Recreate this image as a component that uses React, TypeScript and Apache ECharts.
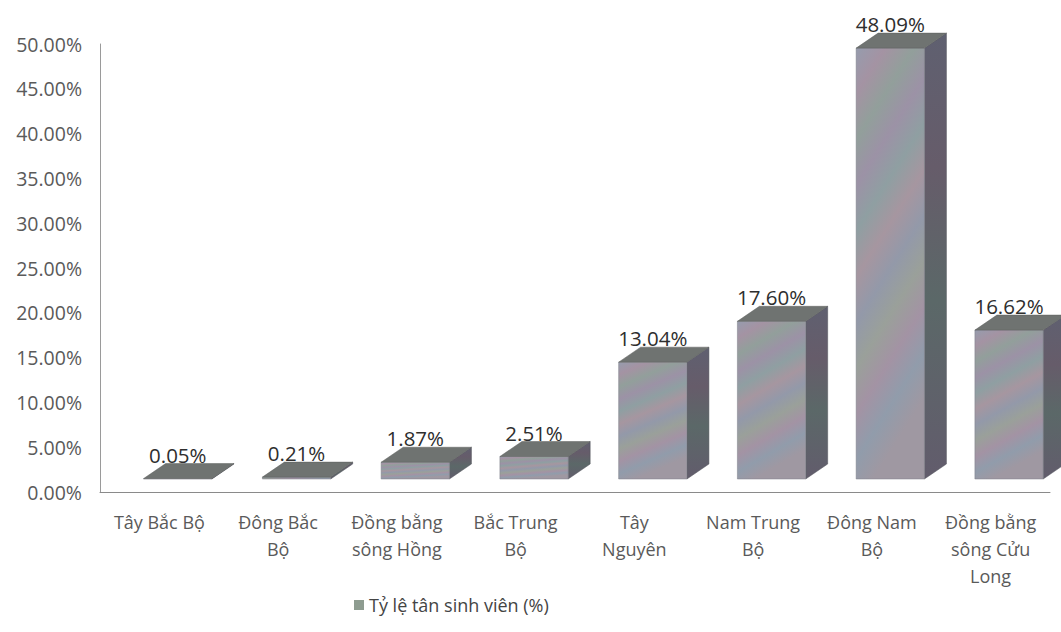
import React, { useEffect, useRef } from "react";
import * as echarts from "echarts";

const categories = [
  "Tây Bắc Bộ",
  "Đông Bắc\nBộ",
  "Đồng bằng\nsông Hồng",
  "Bắc Trung\nBộ",
  "Tây\nNguyên",
  "Nam Trung\nBộ",
  "Đông Nam\nBộ",
  "Đồng bằng\nsông Cửu\nLong",
];
const values = [0.05, 0.21, 1.87, 2.51, 13.04, 17.6, 48.09, 16.62];
const seriesName = "Tỷ lệ tân sinh viên (%)";
const yTicks = { min: 0, max: 50, interval: 5 };

const FONT = "'Open Sans', 'Noto Sans', sans-serif";

export default function App() {
  const ref = useRef<HTMLDivElement>(null);
  useEffect(() => {
    document.body.style.margin = "0";
    const chart = echarts.init(ref.current!, null, { renderer: "svg" });
    const frontFill = new echarts.graphic.LinearGradient(0, 0, 0.25, 1, [
      { offset: 0, color: "#969cad" },
      { offset: 0.1, color: "#a493a3" },
      { offset: 0.2, color: "#929f9b" },
      { offset: 0.3, color: "#9c92a6" },
      { offset: 0.4, color: "#8f9fa2" },
      { offset: 0.5, color: "#a696a0" },
      { offset: 0.6, color: "#9399a9" },
      { offset: 0.7, color: "#9aa09a" },
      { offset: 0.8, color: "#a393a4" },
      { offset: 0.9, color: "#919cab" },
      { offset: 1, color: "#9f98a2" },
    ]);
    const sideFill = new echarts.graphic.LinearGradient(0, 0, 0, 1, [
      { offset: 0, color: "#5f6070" },
      { offset: 0.3, color: "#665c6a" },
      { offset: 0.6, color: "#5b6868" },
      { offset: 1, color: "#625c6c" },
    ]);
    const topFill = "#6f7371";

    chart.setOption({
      animation: false,
      grid: { left: 100, right: 11, top: 44, bottom: 140, containLabel: false },
      legend: {
        data: [seriesName],
        left: 349,
        top: 591,
        icon: "rect",
        itemWidth: 10,
        itemHeight: 10,
        itemGap: 5,
        textStyle: { fontFamily: FONT, fontSize: 18, color: "#444" },
      },
      xAxis: {
        type: "category",
        data: categories,
        axisLine: { show: true, lineStyle: { color: "#8a8a8a", width: 1 } },
        axisTick: { show: false },
        axisLabel: {
          fontFamily: FONT,
          fontSize: 18,
          color: "#5a5a5a",
          lineHeight: 27,
          margin: 16,
          interval: 0,
        },
      },
      yAxis: {
        type: "value",
        min: yTicks.min,
        max: yTicks.max,
        interval: yTicks.interval,
        axisLine: { show: true, lineStyle: { color: "#9a9a9a", width: 1 } },
        axisTick: { show: false },
        splitLine: { show: false },
        axisLabel: {
          fontFamily: FONT,
          fontSize: 19.5,
          color: "#5a5a5a",
          margin: 18,
          formatter: (v: number) => v.toFixed(2) + "%",
        },
      },
      series: [
        {
          name: seriesName,
          type: "custom",
          itemStyle: { color: "#8e9c90" },
          data: values.map((v, i) => [i, v]),
          encode: { x: 0, y: 1 },
          renderItem: (params: any, api: any) => {
            const i = api.value(0);
            const v = api.value(1);
            const base = api.coord([i, 0]);
            const top = api.coord([i, v]);
            const bw = api.size([1, 0])[0];
            const fw = bw * 0.575;
            const cx = base[0] + bw * 0.155;
            const x0 = cx - fw / 2;
            const x1 = cx + fw / 2;
            const lift = 13;
            const yb = base[1] - lift;
            const yt = top[1] - lift;
            const dx = 22;
            const dy = -15;
            return {
              type: "group",
              children: [
                {
                  type: "polygon",
                  shape: {
                    points: [
                      [x1, yb],
                      [x1 + dx, yb + dy],
                      [x1 + dx, yt + dy],
                      [x1, yt],
                    ],
                  },
                  style: { fill: sideFill, stroke: "#4f5058", lineWidth: 0.5 },
                },
                {
                  type: "rect",
                  shape: { x: x0, y: yt, width: fw, height: Math.max(yb - yt, 0.5) },
                  style: { fill: frontFill, stroke: "#7d7f88", lineWidth: 0.5 },
                },
                {
                  type: "polygon",
                  shape: {
                    points: [
                      [x0, yt],
                      [x1, yt],
                      [x1 + dx, yt + dy],
                      [x0 + dx, yt + dy],
                    ],
                  },
                  style: { fill: topFill, stroke: "#5e605f", lineWidth: 0.5 },
                },
                {
                  type: "text",
                  style: {
                    text: v.toFixed(2) + "%",
                    x: cx,
                    y: yt + dy - 9,
                    align: "center",
                    verticalAlign: "middle",
                    fontFamily: FONT,
                    fontSize: 20.5,
                    fill: "#2e2e2e",
                  },
                },
              ],
            };
          },
        },
      ],
    });
    return () => chart.dispose();
  }, []);
  return <div ref={ref} style={{ width: 1061, height: 632, background: "#fff" }} />;
}
